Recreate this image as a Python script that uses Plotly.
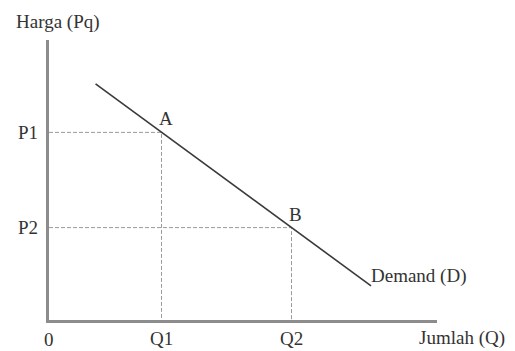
import plotly.graph_objects as go

# values (schematic units, axes 0..10)
demand_q = [1.2, 8.3]
demand_p = [8.43, 1.22]
point_names = ['A', 'B']
point_q = [2.9, 6.25]
point_p = [6.7, 3.3]
q_labels = ['Q1', 'Q2']
p_labels = ['P1', 'P2']

font_name = 'Liberation Serif'
txt = '#333333'

fig = go.Figure()

# dashed guide lines from the axes to A and B
for q, p in zip(point_q, point_p):
    fig.add_trace(go.Scatter(x=[0, q, q], y=[p, p, 0], mode='lines',
                             line=dict(color='#9a9a9a', width=1, dash='4px,2px'),
                             hoverinfo='skip', showlegend=False))

# demand curve
fig.add_trace(go.Scatter(x=demand_q, y=demand_p, mode='lines',
                         line=dict(color='#3a3a3a', width=1.6),
                         hoverinfo='skip', showlegend=False))

anns = []
for name, q, p in zip(point_names, point_q, point_p):
    anns.append(dict(x=q, y=p, text=name, showarrow=False, xanchor='left',
                     yanchor='bottom', xshift=-5, yshift=1))
for lab, q in zip(q_labels, point_q):
    anns.append(dict(x=q, y=0, text=lab, showarrow=False, yanchor='middle', yshift=-18))
for lab, p in zip(p_labels, point_p):
    anns.append(dict(x=0, y=p, text=lab, showarrow=False, xanchor='right', xshift=-9))
anns.append(dict(x=0, y=0, text='0', showarrow=False, yanchor='middle', yshift=-19))
anns.append(dict(x=demand_q[-1], y=demand_p[-1], text='Demand (D)', showarrow=False,
                 xanchor='left', yanchor='middle', xshift=-2, yshift=10))
anns.append(dict(x=10, y=0, text='Jumlah (Q)', showarrow=False, xanchor='left',
                 yanchor='middle', xshift=-20, yshift=-18))
anns.append(dict(x=0, y=10, text='Harga (Pq)', showarrow=False, xanchor='center',
                 yanchor='middle', xshift=9, yshift=18))

# the page body adds an 8px offset, so the figure is 8px smaller on the top/left
fig.update_layout(
    width=507, height=343,
    margin=dict(l=41, r=78, t=32, b=31),
    paper_bgcolor='white', plot_bgcolor='white',
    font=dict(family=font_name, size=19, color=txt),
    annotations=anns,
    xaxis=dict(range=[0, 10], showgrid=False, zeroline=False, showticklabels=False,
               showline=True, linecolor='#8c8c8c', linewidth=2.5),
    yaxis=dict(range=[0, 10], showgrid=False, zeroline=False, showticklabels=False,
               showline=True, linecolor='#8c8c8c', linewidth=2.5),
)

fig.write_html('out.html')
